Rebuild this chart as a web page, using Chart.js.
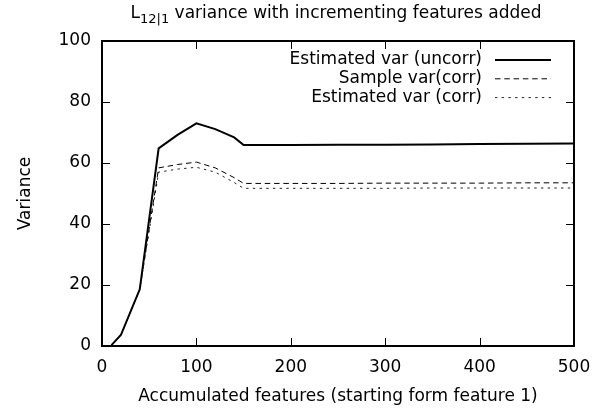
<!DOCTYPE html>
<html><head><meta charset="utf-8">
<script src="https://cdn.jsdelivr.net/npm/chart.js@4"></script>
<style>html,body{margin:0;padding:0;background:#fff}</style>
</head><body>
<canvas id="c" width="608" height="411" style="width:608px;height:411px;display:block"></canvas>
<script>
// ---- data ----
const features   = [10, 20, 40, 60, 80, 100, 120, 140, 150, 200, 250, 300, 350, 400, 450, 500];
const estUncorr  = [0.3, 3.6, 18.6, 64.8, 69.2, 73.0, 71.1, 68.4, 65.9, 65.9, 66.0, 66.0, 66.1, 66.2, 66.3, 66.4];
const sampleCorr = [0.3, 3.6, 18.6, 58.4, 59.5, 60.3, 58.4, 55.2, 53.3, 53.3, 53.3, 53.4, 53.4, 53.4, 53.5, 53.5];
const estCorr    = [0.3, 3.6, 18.5, 57.0, 58.0, 58.6, 57.0, 53.6, 51.7, 51.7, 51.7, 51.7, 51.8, 51.8, 51.8, 51.8];
const xTicks = [0, 100, 200, 300, 400, 500];
const yTicks = [0, 20, 40, 60, 80, 100];
const seriesLabels = ['Estimated var (uncorr)', 'Sample var(corr)', 'Estimated var (corr)'];
const titleMain = 'L';
const titleSub = '12|1';
const titleRest = ' variance with incrementing features added';
const xTitle = 'Accumulated features (starting form feature 1)';
const yTitle = 'Variance';

const FONT = '"DejaVu Sans", sans-serif';
Chart.defaults.font.family = FONT;
Chart.defaults.font.size = 17;
Chart.defaults.color = '#000';

const toPts = arr => features.map((x, i) => ({x: x, y: arr[i]}));

const framePlugin = {
  id: 'frame',
  afterDraw(chart) {
    const {ctx, chartArea: {left, right, top, bottom}, scales: {x, y}} = chart;
    ctx.save();
    ctx.strokeStyle = '#000';
    ctx.lineWidth = 1;
    ctx.beginPath();
    xTicks.forEach(v => {
      const px = Math.round(x.getPixelForValue(v)) + 0.5;
      ctx.moveTo(px, bottom); ctx.lineTo(px, bottom - 8);
      ctx.moveTo(px, top); ctx.lineTo(px, top + 8);
    });
    yTicks.forEach(v => {
      const py = Math.round(y.getPixelForValue(v)) + 0.5;
      ctx.moveTo(left, py); ctx.lineTo(left + 8, py);
      ctx.moveTo(right, py); ctx.lineTo(right - 8, py);
    });
    ctx.stroke();
    ctx.lineWidth = 2;
    ctx.strokeRect(left, top, right - left, bottom - top);
    ctx.restore();
  }
};

const titlePlugin = {
  id: 'subTitle',
  afterDraw(chart) {
    const ctx = chart.ctx;
    ctx.save();
    ctx.fillStyle = '#000';
    ctx.textAlign = 'left';
    ctx.textBaseline = 'alphabetic';
    let x = 130.5;
    const base = 18;
    ctx.font = '17px ' + FONT;
    ctx.fillText(titleMain, x, base);
    x += ctx.measureText(titleMain).width;
    ctx.font = '13px ' + FONT;
    ctx.fillText(titleSub, x, base + 5);
    x += ctx.measureText(titleSub).width;
    ctx.font = '17px ' + FONT;
    ctx.fillText(titleRest, x, base);
    ctx.restore();
  }
};

const keyPlugin = {
  id: 'key',
  afterDraw(chart) {
    const ctx = chart.ctx;
    const rows = [60, 78.8, 97.6];
    ctx.save();
    chart.data.datasets.forEach((ds, i) => {
      ctx.font = '17px ' + FONT;
      ctx.fillStyle = '#000';
      ctx.textAlign = 'right';
      ctx.textBaseline = 'middle';
      ctx.fillText(ds.label, 482, rows[i]);
      ctx.beginPath();
      ctx.strokeStyle = ds.borderColor;
      ctx.lineWidth = ds.borderWidth;
      ctx.setLineDash(ds.borderDash || []);
      ctx.moveTo(495, rows[i]);
      ctx.lineTo(551, rows[i]);
      ctx.stroke();
    });
    ctx.restore();
  }
};

new Chart(document.getElementById('c'), {
  type: 'line',
  data: {
    datasets: [
      {label: seriesLabels[0], data: toPts(estUncorr), borderColor: '#000', borderWidth: 2, pointRadius: 0, fill: false, tension: 0},
      {label: seriesLabels[1], data: toPts(sampleCorr), borderColor: '#000', borderWidth: 1, borderDash: [5.5, 3.8], pointRadius: 0, fill: false, tension: 0},
      {label: seriesLabels[2], data: toPts(estCorr), borderColor: '#222', borderWidth: 1, borderDash: [2.4, 4.3], pointRadius: 0, fill: false, tension: 0}
    ]
  },
  options: {
    responsive: false,
    animation: false,
    devicePixelRatio: 1,
    layout: {padding: {left: 0, right: 34, top: 41, bottom: 0}},
    plugins: {legend: {display: false}, title: {display: false}, tooltip: {enabled: false}},
    scales: {
      x: {
        type: 'linear', min: 0, max: 500,
        afterBuildTicks: s => { s.ticks = xTicks.map(v => ({value: v})); },
        grid: {display: false, drawTicks: false},
        border: {display: false},
        ticks: {padding: 11, color: '#000', maxRotation: 0, autoSkip: false},
        title: {display: true, text: xTitle, color: '#000', padding: {top: 0, bottom: 4}},
        afterFit: s => { s.height = 65; }
      },
      y: {
        type: 'linear', min: 0, max: 100,
        afterBuildTicks: s => { s.ticks = yTicks.map(v => ({value: v})); },
        grid: {display: false, drawTicks: false},
        border: {display: false},
        ticks: {padding: 11, color: '#000', autoSkip: false},
        title: {display: true, text: yTitle, color: '#000', padding: {top: 15, bottom: 0}},
        afterFit: s => { s.width = 102; }
      }
    }
  },
  plugins: [framePlugin, titlePlugin, keyPlugin]
});
</script>
</body></html>
